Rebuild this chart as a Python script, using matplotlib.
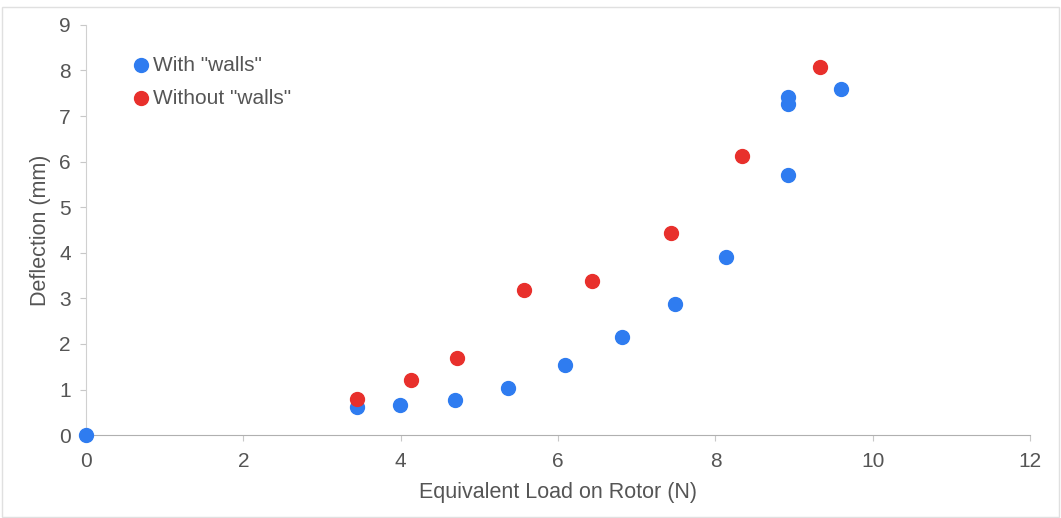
import matplotlib
matplotlib.use("Agg")
import matplotlib.pyplot as plt

plt.rcParams['font.family'] = ['Liberation Sans', 'DejaVu Sans']

# with "walls"
with_x = [0, 3.44, 3.99, 4.69, 5.36, 6.09, 6.81, 7.48, 8.14, 8.92, 8.92, 8.92, 9.59]
with_y = [0, 0.61, 0.66, 0.77, 1.03, 1.54, 2.15, 2.87, 3.90, 5.70, 7.26, 7.41, 7.59]

# without "walls"
without_x = [3.44, 4.13, 4.71, 5.57, 6.43, 7.43, 8.34, 9.33]
without_y = [0.79, 1.21, 1.69, 3.18, 3.38, 4.43, 6.12, 8.07]

blue = '#2f7cf0'
red = '#e8302c'
grey = '#555555'

fig = plt.figure(figsize=(10.61, 5.18), dpi=100)
ax = fig.add_axes([0.081, 0.160, 0.890, 0.792])

ax.scatter(with_x, with_y, s=100, color=blue, label='With "walls"', zorder=3, clip_on=False)
ax.scatter(without_x, without_y, s=100, color=red, label='Without "walls"', zorder=3, clip_on=False)

ax.set_xlim(0, 12)
ax.set_ylim(0, 9)
ax.set_xticks(range(0, 13, 2))
ax.set_yticks(range(0, 10))

for s in ['top', 'right']:
    ax.spines[s].set_visible(False)
ax.spines['left'].set_color('#d0d0d0')
ax.spines['bottom'].set_color('#b0b0b0')
ax.tick_params(colors='#c8c8c8', labelcolor=grey, labelsize=15, length=4)
ax.tick_params(axis='x', pad=8)
ax.tick_params(axis='y', pad=7)

ax.set_xlabel('Equivalent Load on Rotor (N)', fontsize=15.5, color=grey, labelpad=8)
ax.set_ylabel('Deflection (mm)', fontsize=15.5, color=grey, labelpad=6)

leg = ax.legend(loc='upper left', bbox_to_anchor=(0.0505, 0.925), frameon=False,
                fontsize=15, handlelength=0.7, handletextpad=0.23, labelspacing=0.68,
                borderpad=0, borderaxespad=0)
for t in leg.get_texts():
    t.set_color(grey)

fig.patches.append(plt.Rectangle((0.002, 0.002), 0.996, 0.985, transform=fig.transFigure,
                                 fill=False, edgecolor='#e0e0e0', lw=1))

fig.savefig('out.png', dpi=100)
